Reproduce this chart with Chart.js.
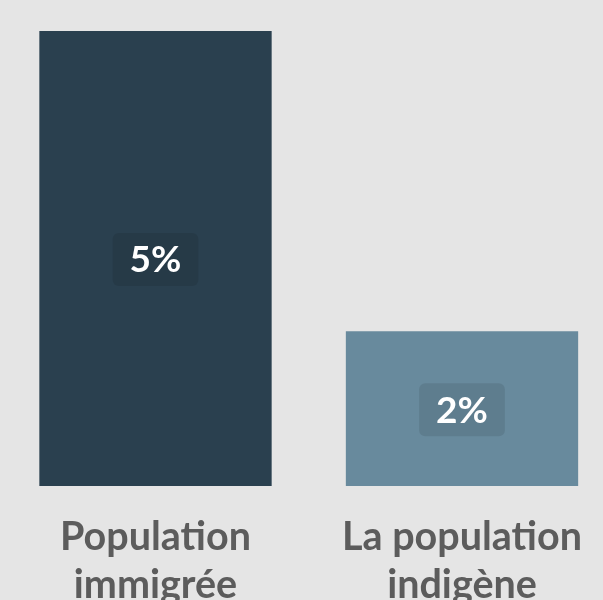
<!DOCTYPE html>
<html>
<head>
<meta charset="utf-8">
<script src="https://cdn.jsdelivr.net/npm/chart.js@4"></script>
<style>
  html, body { margin: 0; padding: 0; background: #e5e5e5; overflow: hidden; }
  #wrap { position: absolute; left: 0; top: 0; width: 603px; height: 636px; }
</style>
</head>
<body>
<div id="wrap"><canvas id="chart"></canvas></div>
<script>
// Data
const categories = [["Population", "immigrée"], ["La population", "indigène"]];
const values = [5, 1.7];
const barColors = ["#2a404f", "#688a9d"];

// Value labels in a soft box, centred in each bar
const boxLabels = {
  id: "boxLabels",
  afterDatasetsDraw(chart) {
    const ctx = chart.ctx;
    const meta = chart.getDatasetMeta(0);
    ctx.save();
    ctx.font = "bold 37px Lato";
    ctx.textAlign = "center";
    ctx.textBaseline = "middle";
    meta.data.forEach((bar, i) => {
      const text = Math.round(values[i]) + "%";
      const cy = (bar.y + bar.base) / 2 + 1;
      const w = ctx.measureText(text).width + 34;
      const h = 53;
      ctx.fillStyle = "rgba(0,0,0,0.09)";
      ctx.beginPath();
      ctx.roundRect(bar.x - w / 2, cy - h / 2, w, h, 6);
      ctx.fill();
      ctx.fillStyle = "#ffffff";
      ctx.fillText(text, bar.x, cy + 1);
    });
    ctx.restore();
  }
};

new Chart(document.querySelector("#chart"), {
  type: "bar",
  data: {
    labels: categories,
    datasets: [{
      data: values,
      backgroundColor: barColors,
      categoryPercentage: 1,
      barPercentage: 0.758,
      clip: false
    }]
  },
  options: {
    responsive: true,
    maintainAspectRatio: false,
    animation: false,
    layout: { padding: { top: 31, left: 155.5, right: 141, bottom: 0 } },
    plugins: { legend: { display: false }, tooltip: { enabled: false } },
    scales: {
      x: {
        offset: false,
        afterFit: scale => {
          // labels may overhang the bars; don't shrink the plot for them
          scale.paddingLeft = 0;
          scale.paddingRight = 0;
        },
        grid: { display: false, drawTicks: false },
        border: { display: false },
        ticks: {
          color: "#5c5c5c",
          padding: 27,
          maxRotation: 0,
          autoSkip: false,
          font: { family: "Lato", weight: "bold", size: 39.5, lineHeight: "48px" }
        }
      },
      y: {
        display: false,
        min: 0,
        max: 5
      }
    }
  },
  plugins: [boxLabels]
});
</script>
</body>
</html>
